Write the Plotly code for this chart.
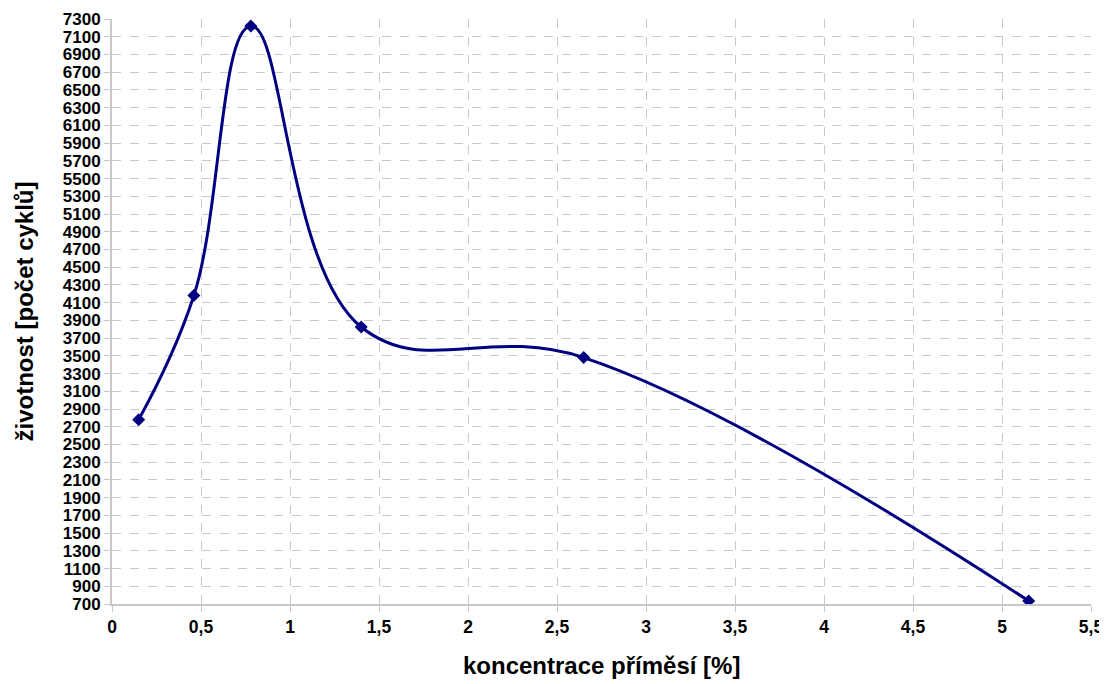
import plotly.graph_objects as go

koncentrace = [0.15, 0.46, 0.78, 1.40, 2.65, 5.15]
zivotnost = [2780, 4180, 7220, 3825, 3480, 735]

y_ticks = list(range(700, 7301, 200))
x_ticks = [i * 0.5 for i in range(0, 12)]
x_labels = [("%g" % v).replace(".", ",") for v in x_ticks]

fig = go.Figure()
fig.add_trace(go.Scatter(
    x=koncentrace, y=zivotnost, mode="lines+markers",
    line=dict(color="#000080", width=3, shape="spline", smoothing=1.15),
    marker=dict(symbol="diamond", size=10, color="#000080"),
    showlegend=False,
))

font_family = "Liberation Sans, Arial, sans-serif"
# page body has an 8px margin, so the figure is drawn 8px in from the window edge
fig.update_layout(
    width=1099, height=676,
    margin=dict(l=104, r=16, t=11, b=80),
    plot_bgcolor="white", paper_bgcolor="white",
    font=dict(family=font_family, color="black"),
    annotations=[
        dict(text="<b>koncentrace příměsí [%]</b>", xref="paper", yref="paper",
             x=0.5, y=(604 - 665) / 585, xanchor="center", yanchor="middle",
             showarrow=False, font=dict(size=24, family=font_family, color="black")),
        dict(text="<b>životnost [počet cyklů]</b>", xref="paper", yref="paper",
             x=(24 - 112) / 979, y=0.5, xanchor="center", yanchor="middle", textangle=-90,
             showarrow=False, font=dict(size=24, family=font_family, color="black")),
    ],
)
fig.update_xaxes(
    range=[0, 5.5], tickvals=x_ticks, ticktext=x_labels,
    tickfont=dict(size=17.5, family=font_family, weight="bold"),
    showgrid=True, gridcolor="#c8c8c8", griddash="dash", gridwidth=1,
    showline=True, linecolor="#c8c8c8", linewidth=2,
    ticks="outside", tickcolor="#c8c8c8", ticklen=6,
    zeroline=False, automargin=False,
)
fig.update_yaxes(
    range=[700, 7300], tickvals=y_ticks,
    tickfont=dict(size=17, family=font_family, weight="bold"),
    showgrid=True, gridcolor="#c8c8c8", griddash="dash", gridwidth=1,
    showline=True, linecolor="#c8c8c8", linewidth=2,
    ticks="outside", tickcolor="#c8c8c8", ticklen=6,
    zeroline=False, automargin=False,
)

fig.write_html("out.html")
